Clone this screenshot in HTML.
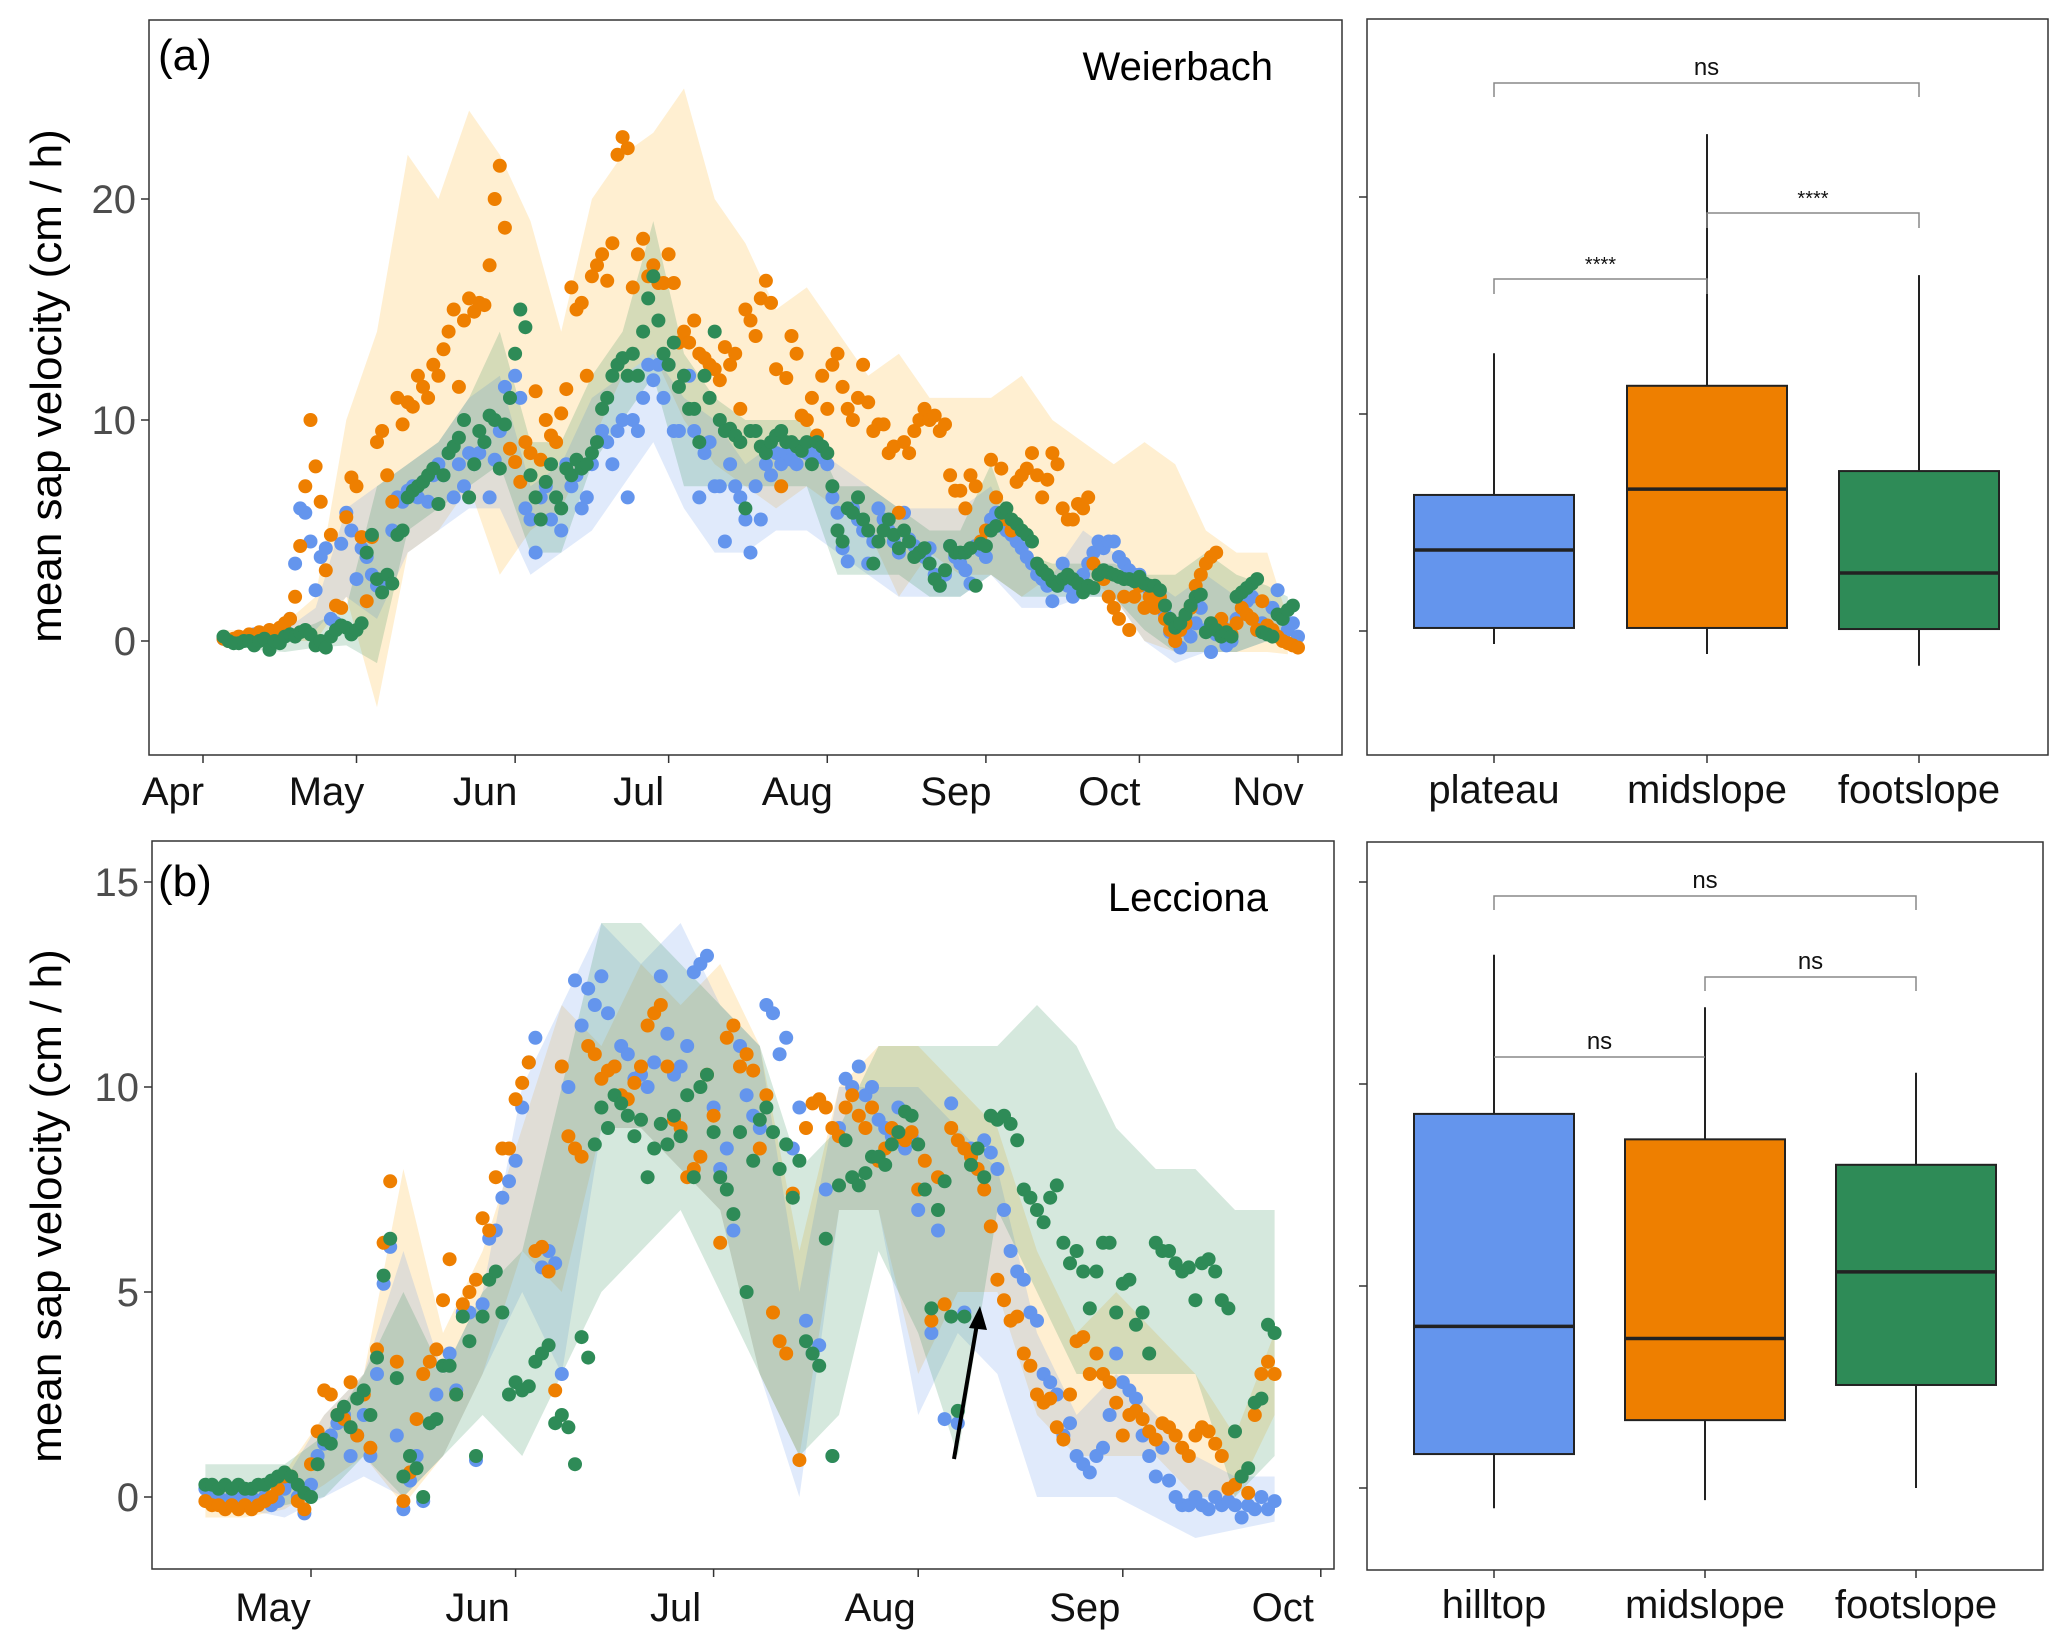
<!DOCTYPE html>
<html><head><meta charset="utf-8"><style>
html,body{margin:0;padding:0;background:#fff}
svg{display:block;font-family:"Liberation Sans",Arial,sans-serif}
</style></head><body>
<svg id="fig" width="2067" height="1648" viewBox="0 0 2067 1648" xmlns="http://www.w3.org/2000/svg">
<rect x="0" y="0" width="2067" height="1648" fill="#fff"/>
<g id="ribA"></g>
<g id="dotsA"></g>
<g id="ribB"></g>
<g id="dotsB"></g>
<g id="axes"></g>
<g id="boxes"></g>
<line x1="954" y1="1459" x2="978" y2="1318" stroke="#000" stroke-width="4"/>
<polygon points="980,1306 969,1328 987,1330" fill="#000"/>
</svg>
<script>
// ---------- Panel (a) Weierbach: day index from Apr 1 ----------
const aStart = 4;
const aPlateau = [0.1,0,0,0.1,0.1,0.2,0.3,0.2,0.3,0.1,0.2,0.4,0.5,1.0,3.5,6.0,5.8,4.5,2.3,3.8,4.2,1.0,0.8,4.4,5.8,5.0,2.8,
4.2,3.8,3.0,2.5,2.3,2.7,5.0,6.5,6.3,6.8,7.0,6.5,7.2,6.3,7.5,8.0,7.5,8.5,6.5,8.0,7.0,8.5,8.0,8.5,9.0,6.5,8.2,9.5,11.5,11.0,12.0,
11.0,6.0,5.5,4.0,6.5,7.0,5.5,6.5,5.0,8.0,7.0,7.5,6.0,6.5,8.0,9.0,9.5,9.0,8.0,9.5,10.0,6.5,10.0,9.5,11.0,12.5,11.8,12.5,11.0,12.5,
9.5,9.5,12.0,12.0,9.5,6.5,8.5,9.0,7.0,7.0,4.5,8.0,7.0,6.5,5.5,4.0,7.0,5.5,8.0,7.5,8.5,8.0,8.5,8.2,8.0,8.8,8.5,8.3,8.8,8.3,8.0,
6.5,5.8,4.2,3.6,6.0,5.5,5.0,3.5,4.5,6.0,5.5,5.0,4.5,4.0,5.8,4.6,4.3,4.0,3.8,4.2,3.0,2.5,3.0,4.3,3.8,3.5,3.2,2.6,4.3,4.1,3.8,
5.5,5.8,5.2,5.0,4.8,4.5,4.2,3.8,3.5,3.0,2.8,2.5,1.8,2.5,3.5,2.5,2.0,2.5,3.0,3.5,4.0,4.5,4.2,4.5,4.5,3.8,3.5,3.2,3.0,3.0,
2.6,2.3,2.2,2.0,1.2,0.4,0.0,-0.3,0.5,0.2,0.8,1.5,0.5,-0.5,0.3,0.8,-0.2,0.0,1.0,1.5,1.8,2.0,0.5,0.8,0.5,1.5,2.3,1.0,0.5,0.8,0.2];
const aMidslope = [0.1,0,0.1,0.2,0.1,0.3,0.2,0.4,0.3,0.5,0.4,0.6,0.8,1.0,2.0,4.3,7.0,10.0,7.9,6.3,3.2,4.8,1.6,1.5,5.6,7.4,7.0,
4.7,1.8,4.7,9.0,9.5,7.5,6.3,11.0,9.8,10.8,10.6,12.0,11.5,11.0,12.5,12.0,13.2,14.0,15.0,11.5,14.5,15.5,14.9,15.3,15.2,17.0,20.0,21.5,18.7,8.7,8.1,
7.2,9.0,8.5,11.3,8.2,10.0,9.3,9.0,10.3,11.4,16.0,15.0,15.3,12.0,16.5,17.0,17.5,16.3,18.0,22.0,22.8,22.3,16.0,17.5,18.2,16.5,17.0,16.2,16.2,17.5,
16.2,13.5,14.0,13.5,14.5,13.0,12.8,12.5,12.3,11.8,13.3,12.5,13.0,10.5,15.0,14.5,13.8,15.5,16.3,15.3,12.3,7.0,11.9,13.8,13.0,10.2,10.0,11.0,9.3,12.0,10.5,
12.5,13,11.5,10.5,10.0,11,12.5,10.8,9.5,9.8,9.8,8.5,8.8,5.8,9.0,8.5,9.5,10.0,10.5,10.0,10.2,9.5,9.8,7.5,6.8,6.8,6.0,7.5,7.0,4.5,5.0,
8.2,6.5,7.8,5.5,5.0,7.2,7.5,7.8,8.5,7.5,6.5,7.3,8.5,8.0,6.0,5.5,5.5,6.2,6.0,6.5,3.5,3.0,2.8,2.0,1.5,1.0,2.0,0.5,2.0,2.5,
1.5,2.0,1.5,2.0,1.0,0.5,0.0,0.5,0.8,1.5,2.5,3.0,3.5,3.8,4.0,1.0,0.5,0.3,0.8,1.5,1.2,1.0,0.5,1.8,0.7,0.5,0.2,0.0,-0.1,-0.2,-0.3];
const aFootslope = [0.2,0,-0.1,-0.1,0,0,-0.2,0,0.1,-0.4,0,-0.1,0.2,0.3,0.2,0.4,0.5,0.3,-0.2,0,-0.3,0.2,0.5,0.7,0.6,0.3,0.5,
0.8,4.0,4.8,2.8,2.2,3.0,2.6,4.8,5.0,6.5,6.8,7.0,7.2,7.5,7.8,6.2,7.5,8.5,8.8,9.2,10.0,6.5,8.0,9.5,9.0,10.2,10.0,7.8,9.8,11.0,13.0,
15.0,14.2,7.5,6.5,5.5,7.2,8.0,6.5,6.0,7.8,7.5,8.2,7.8,8.0,8.5,9.0,10.5,11.0,12.0,12.5,12.8,12.0,13.0,12.0,14.0,15.5,16.5,14.5,13.0,12.5,
13.5,11.5,12.0,10.5,10.5,9.0,12.0,11.0,14.0,10.0,9.5,9.6,9.3,9.0,6.0,9.5,9.5,8.8,8.5,9.0,9.3,9.5,9.0,9.0,8.8,8.6,9.0,8.0,9.0,8.8,8.5,
7.0,5.0,4.5,6.0,5.8,6.5,5.5,5.0,3.5,4.5,5.0,5.5,4.8,4.2,5.0,4.5,3.8,4.0,4.2,3.5,2.8,2.5,3.2,4.3,4.0,4.0,4.0,4.2,2.5,4.4,4.3,
5.0,5.2,5.8,6.0,5.5,5.3,5.0,4.8,4.5,3.5,3.2,3.0,2.7,2.5,2.8,3.0,2.8,2.6,2.2,2.5,2.4,3.0,3.2,3.1,3.0,2.9,2.8,2.8,2.7,2.9,
2.6,2.5,2.5,2.3,1.6,1.0,0.6,0.8,1.2,1.6,2.0,2.1,0.4,0.8,0.5,0.2,0.4,0.2,2.0,2.2,2.4,2.6,2.8,0.4,0.3,0.2,1.2,1.0,1.4,1.6];
const aRibDays = [4,10,16,22,28,34,40,46,52,58,64,70,76,82,88,94,100,106,112,118,124,130,136,142,148,154,160,166,172,178,184,190,196,202,208,212];
const aMidHi = [0.5,0.5,0.8,2,10,14,22,20,24,22,19,14,20,22,23,25,20,18,15,16,14,12,13,11,11,11,12,10,9,8,9,8,5,4,4,1];
const aMidLo = [-0.3,-0.2,0,0,2,-3,4,5,7,3,5,6,9,12,13,10,8,7,6,7,6,5,2,4,3,3,2,3,3,2,0,-0.5,-0.5,-0.5,-0.5,-0.6];
const aPlaHi = [0.3,0.3,0.5,1.5,6,7,8,9,11,12,7,8,11,12,13,11,10,8,9,9,8,7,6,6,6,7,4,3,5,4,3,2,3,2,2,1];
const aPlaLo = [-0.2,-0.2,0,0.5,2,1,4,5,6,6,3,4,5,7,9,6,4,4,5,5,4,3,2,2,2,3,1.5,1.5,2,2,0,-1,-0.5,-0.5,0,0];
const aFooHi = [0.4,0.2,0.3,0.8,1.5,7,8,9,11,14,9,9,12,14,19,13,11,10,10,10,7,7,6,5,5,8,4,3.5,3.5,3.5,3,3,4,3,2.5,2];
const aFooLo = [0,-0.4,-0.5,-0.3,-0.2,-1,5,6,7,8,4,4,8,10,12,7,7,7,7,7,3,3,3,2,2,3,2,2,2,2,0.5,-0.5,-0.5,-0.5,0,0];
const aMonths = ["Apr","May","Jun","Jul","Aug","Sep","Oct","Nov"];
const aMonthDays = [0,30,61,91,122,153,183,214];
const aYTicks = [0,10,20];

// ---------- Panel (b) Lecciona: day index from May 1 ----------
const bStart = -16;
const bHilltop = [0.2,0.1,0.0,-0.1,0.0,0.0,-0.1,0.0,-0.1,0.0,-0.2,-0.1,0.2,0.4,0.0,-0.4,
0.3,1.0,1.3,1.5,1.8,2.0,1.0,1.5,2.0,1.0,3.0,5.2,6.1,1.5,-0.3,0.4,1.0,-0.1,1.8,2.5,3.2,3.5,2.6,4.5,4.5,0.9,4.7,6.3,6.5,7.3,7.7,
8.2,9.5,10.6,11.2,5.6,6.0,5.7,3.0,10.0,12.6,11.5,12.4,12.0,12.7,11.8,10.5,11.0,10.8,10.2,10.3,10.0,10.6,12.7,11.3,10.3,10.5,11.0,12.8,13.0,13.2,
9.5,8.0,8.5,6.5,11.0,9.8,9.3,9.0,12.0,11.8,10.8,11.2,8.5,9.5,4.3,3.5,3.7,7.5,1.0,9.0,10.2,10.0,10.5,9.8,10.0,9.2,9.0,8.8,9.5,8.5,8.8,
7.0,7.5,4.0,6.5,1.9,9.6,1.8,4.5,8.5,8.0,8.7,8.4,8.0,7.0,6.0,5.5,5.3,4.5,4.3,3.0,2.8,2.5,1.5,1.8,1.0,0.8,0.6,1.0,1.2,2.0,3.5,
2.8,2.6,2.4,1.5,1.0,0.5,1.2,0.4,0.0,-0.2,-0.2,0.0,-0.2,-0.3,0.0,-0.2,-0.1,-0.2,-0.5,-0.2,-0.3,0.0,-0.3,-0.1];
const bMidslope = [-0.1,-0.2,-0.2,-0.3,-0.2,-0.3,-0.2,-0.3,-0.2,-0.1,0.0,0.2,0.5,0.5,-0.1,-0.3,
0.8,1.6,2.6,2.5,2.0,1.9,2.8,1.5,2.5,1.2,3.6,6.2,7.7,3.3,-0.1,0.6,1.9,3.0,3.3,3.6,4.8,5.8,2.5,4.7,5.0,5.3,6.8,6.5,7.8,8.5,8.5,
9.7,10.1,10.6,6.0,6.1,5.5,2.6,10.5,8.8,8.5,8.3,11.0,10.8,10.2,10.4,10.5,9.8,9.7,10.1,10.5,11.5,11.8,12.0,10.5,9.2,9.0,7.8,8.0,8.3,10.3,
9.3,6.2,11.2,11.5,10.5,10.8,10.4,8.5,9.8,4.5,3.8,3.5,7.4,0.9,9.0,9.6,9.7,9.5,9.0,8.8,9.5,9.8,9.3,9.0,9.5,8.2,8.5,9.0,8.8,8.7,8.9,
7.5,8.2,4.3,7.8,4.7,9.0,8.7,8.5,8.3,8.0,7.5,6.6,5.3,4.8,4.3,4.4,3.5,3.2,2.5,2.3,2.4,1.7,1.4,2.5,3.8,3.9,3.0,3.5,3.0,2.8,2.3,
1.5,2.0,2.1,1.9,1.6,1.4,1.8,1.7,1.5,1.2,1.0,1.5,1.7,1.6,1.3,1.0,0.2,0.3,0.5,0.1,2.0,3.0,3.3,3.0];
const bFootslope = [0.3,0.3,0.2,0.3,0.2,0.3,0.2,0.2,0.3,0.3,0.4,0.5,0.6,0.5,0.3,0.1,
0.0,0.8,1.4,1.3,2.0,2.2,1.7,2.4,2.6,2.0,3.4,5.4,6.3,2.9,0.5,1.0,0.7,0.0,1.8,1.9,3.2,3.2,2.5,4.4,3.8,1.0,4.4,5.3,5.5,4.5,2.5,
2.8,2.6,2.7,3.3,3.5,3.7,1.8,2.0,1.7,0.8,3.9,3.4,8.6,9.5,9.0,9.8,9.6,9.3,8.8,9.2,7.8,8.5,9.1,8.6,9.3,8.8,9.8,7.8,10.0,10.3,
8.9,7.8,7.5,6.9,8.9,5.0,8.2,9.2,9.5,8.9,8.0,8.6,7.3,8.2,3.8,3.5,3.2,6.3,1.0,7.6,8.7,7.8,7.6,7.9,8.3,8.3,8.1,8.6,8.9,9.4,9.3,
8.6,7.5,4.6,7.0,7.7,4.4,2.1,4.4,8.1,8.5,7.8,9.3,9.2,9.3,9.1,8.7,7.5,7.3,7.0,6.7,7.3,7.6,6.2,5.7,6.0,5.5,4.6,5.5,6.2,6.2,4.5,
5.2,5.3,4.2,4.5,3.5,6.2,6.0,6.0,5.7,5.5,5.6,4.8,5.7,5.8,5.5,4.8,4.6,1.6,0.5,0.7,2.3,2.4,4.2,4.0];
const bRibDays = [-16,-10,-4,2,8,14,20,26,32,38,44,50,56,62,68,74,80,86,92,98,104,110,116,122,128,134,140,146];
const bFooHi = [0.8,0.8,0.8,1.5,3,5,3,5,6,10,14,14,13,12,11,8,9,11,11,11,11,12,11,9,8,8,7,7];
const bFooLo = [-0.2,-0.2,-0.2,0,1,0,1,2,1,3,5,6,7,5,3,1,2,6,4,1,7,5,3,3,3,3,0,1];
const bMidHi = [0.2,0.2,0.6,2,3,8,4,6,9,12,11,13,12,13,11,6,10,11,11,10,9,6,4,5,4,3,1.5,4];
const bMidLo = [-0.5,-0.5,-0.3,0.3,1,-0.2,1,3,6,5,9,9,8,7,3,1,7,7,3,5,5,2,1,1,1,0,0,2];
const bHilHi = [0.4,0.2,0.4,2,3,6,3,5,10,12,14,13,14,12,11,5,10,10,10,9,8,4,2,3,2,1,0.5,0.5];
const bHilLo = [-0.2,-0.3,-0.5,0,0.5,0,1,3,5,3,9,9,8,7,3,0,7,7,2,4,3,0,0,0,-0.5,-1,-0.8,-0.6];
const bMonths = ["May","Jun","Jul","Aug","Sep","Oct"];
const bMonthDays = [0,31,61,92,123,153];
const bYTicks = [0,5,10,15];

// ---------- Boxplots ----------
const boxCatsA = ["plateau","midslope","footslope"];
const boxLoA = [-0.6,-1.06,-1.6];
const boxQ1A = [0.14,0.14,0.09];
const boxMedA = [3.73,6.54,2.67];
const boxQ3A = [6.27,11.3,7.37];
const boxHiA = [12.8,22.9,16.4];
const boxCatsB = ["hilltop","midslope","footslope"];
const boxLoB = [-0.5,-0.3,0];
const boxQ1B = [0.84,1.68,2.55];
const boxMedB = [4.0,3.7,5.35];
const boxQ3B = [9.26,8.63,8.0];
const boxHiB = [13.2,11.9,10.28];
const boxTicksA = [0,10,20];
const boxTicksB = [0,5,10,15];

const NS = "http://www.w3.org/2000/svg";
const COL = ["#6495ED","#EE7F00","#2E8B57"];
const RIB = ["rgba(100,149,237,0.20)","rgba(255,196,90,0.28)","rgba(46,139,87,0.20)"];
function mk(tag, attrs, parent){
  const e = document.createElementNS(NS, tag);
  for (const k in attrs) e.setAttribute(k, attrs[k]);
  parent.appendChild(e);
  return e;
}
const xA = d => 203 + d * 5.117;
const yA = v => 641 - v * 22.1;
const xB = d => 311 + d * 6.6;
const yB = v => 1497 - v * 41;
const yBoxA = v => 631 - v * 21.7;
const yBoxB = v => 1488 - v * 40.4;

function ribbon(g, days, lo, hi, xf, yf, fill, name){
  let pts = [];
  for (let i = 0; i < days.length; i++) pts.push(xf(days[i]).toFixed(1) + "," + yf(hi[i]).toFixed(1));
  for (let i = days.length - 1; i >= 0; i--) pts.push(xf(days[i]).toFixed(1) + "," + yf(lo[i]).toFixed(1));
  const p = mk("polygon", {points: pts.join(" "), fill: fill}, g);
  
  
}
function dots(g, start, vals, xf, yf, col, name){
  for (let i = 0; i < vals.length; i++){
    const c = mk("circle", {cx: xf(start + i).toFixed(1), cy: yf(vals[i]).toFixed(1), r: 7, fill: col}, g);
    
    
  }
}
const gRA = document.getElementById("ribA"), gDA = document.getElementById("dotsA");
ribbon(gRA, aRibDays, aMidLo, aMidHi, xA, yA, RIB[1], "ribbon-midslope-a");
ribbon(gRA, aRibDays, aPlaLo, aPlaHi, xA, yA, RIB[0], "ribbon-plateau-a");
ribbon(gRA, aRibDays, aFooLo, aFooHi, xA, yA, RIB[2], "ribbon-footslope-a");
dots(gDA, aStart, aPlateau, xA, yA, COL[0], "point-plateau");
dots(gDA, aStart, aMidslope, xA, yA, COL[1], "point-midslope-a");
dots(gDA, aStart, aFootslope, xA, yA, COL[2], "point-footslope-a");
const gRB = document.getElementById("ribB"), gDB = document.getElementById("dotsB");
ribbon(gRB, bRibDays, bMidLo, bMidHi, xB, yB, RIB[1], "ribbon-midslope-b");
ribbon(gRB, bRibDays, bHilLo, bHilHi, xB, yB, RIB[0], "ribbon-hilltop-b");
ribbon(gRB, bRibDays, bFooLo, bFooHi, xB, yB, RIB[2], "ribbon-footslope-b");
dots(gDB, bStart, bHilltop, xB, yB, COL[0], "point-hilltop");
dots(gDB, bStart, bMidslope, xB, yB, COL[1], "point-midslope-b");
dots(gDB, bStart, bFootslope, xB, yB, COL[2], "point-footslope-b");

const gx = document.getElementById("axes");
function frame(x1,y1,x2,y2,name){
  const r = mk("rect",{x:x1,y:y1,width:x2-x1,height:y2-y1,fill:"none",stroke:"#333",'stroke-width':1.5},gx);
  
  
}
function text(x,y,s,size,anchor,name,fill,extra){
  const t = mk("text",Object.assign({x:x,y:y,'font-size':size,'text-anchor':anchor,fill:fill||"#000"},extra||{}),gx);
  t.textContent = s;
  
  
  return t;
}
function tick(x1,y1,x2,y2,name){
  const l = mk("line",{x1:x1,y1:y1,x2:x2,y2:y2,stroke:"#333",'stroke-width':1.5},gx);
  
  
}
frame(149,20,1342,755,"panel-a-frame");
frame(152,841,1334,1569,"panel-b-frame");
frame(1367,19,2048,755,"box-a-frame");
frame(1367,842,2043,1570,"box-b-frame");
aYTicks.forEach(v=>{ tick(141,yA(v),149,yA(v),"y-tick-a"); text(136,yA(v)+14,String(v),40,"end","y-tick-label-a","#4d4d4d"); });
aMonths.forEach((m,i)=>{ const x=xA(aMonthDays[i]); tick(x,755,x,763,"x-tick-a"); text(x-30,805,m,40,"middle","x-tick-label-a","#111"); });
bYTicks.forEach(v=>{ tick(144,yB(v),152,yB(v),"y-tick-b"); text(139,yB(v)+14,String(v),40,"end","y-tick-label-b","#4d4d4d"); });
bMonths.forEach((m,i)=>{ const x=xB(bMonthDays[i]); tick(x,1569,x,1577,"x-tick-b"); text(x-38,1621,m,40,"middle","x-tick-label-b","#111"); });
text(46,386,"mean sap velocity  (cm / h)",44,"middle","y-axis-title-a","#000",{transform:"rotate(-90 46 386)",dy:"15"});
text(46,1206,"mean sap velocity  (cm / h)",44,"middle","y-axis-title-b","#000",{transform:"rotate(-90 46 1206)",dy:"15"});
text(158,70,"(a)",44,"start","panel-label-a");
text(1273,80,"Weierbach",40,"end","site-title-a");
text(158,896,"(b)",44,"start","panel-label-b");
text(1268,911,"Lecciona",40,"end","site-title-b");

const gb = document.getElementById("boxes");
function boxes(cats,lo,q1,med,q3,hi,cx,yf,ticks,ymin,ymax,sfx){
  ticks.forEach(v=>{ tick(1359,yf(v),1367,yf(v),"box-y-tick-"+sfx); });
  cats.forEach((c,i)=>{
    const x=cx[i], w=80;
    const wl = mk("line",{x1:x,y1:yf(hi[i]),x2:x,y2:yf(lo[i]),stroke:"#222",'stroke-width':2},gb);
    
    
    const r = mk("rect",{x:x-w,y:yf(q3[i]),width:2*w,height:yf(q1[i])-yf(q3[i]),fill:COL[i],stroke:"#222",'stroke-width':2},gb);
    
    
    const m = mk("line",{x1:x-w,y1:yf(med[i]),x2:x+w,y2:yf(med[i]),stroke:"#222",'stroke-width':3.5},gb);
    
    
    tick(x,ymax,x,ymax+8,"box-x-tick-"+sfx);
    text(x,ymax+48,c,40,"middle","box-x-label-"+sfx,"#111");
  });
}
boxes(boxCatsA,boxLoA,boxQ1A,boxMedA,boxQ3A,boxHiA,[1494,1707,1919],yBoxA,boxTicksA,19,755,"a");
boxes(boxCatsB,boxLoB,boxQ1B,boxMedB,boxQ3B,boxHiB,[1494,1705,1916],yBoxB,boxTicksB,842,1570,"b");
function bracket(x1,x2,y,drop,label,name){
  const p = mk("path",{d:`M${x1},${y+drop} L${x1},${y} L${x2},${y} L${x2},${y+drop}`,fill:"none",stroke:"#888",'stroke-width':1.5},gb);
  
  
  const t = mk("text",{x:(x1+x2)/2,y:y-8,'font-size':label==="ns"?24:20,'text-anchor':'middle',fill:'#111'},gb);
  t.textContent = label;
  
  
}
bracket(1494,1919,83,14,"ns","bracket-plateau-footslope");
bracket(1494,1707,279,15,"****","bracket-plateau-midslope");
bracket(1707,1919,213,15,"****","bracket-midslope-footslope");
bracket(1494,1916,896,14,"ns","bracket-hilltop-footslope");
bracket(1705,1916,977,14,"ns","bracket-midslope-footslope-b");
bracket(1494,1705,1057,0,"ns","bracket-hilltop-midslope");
</script>
</body></html>
